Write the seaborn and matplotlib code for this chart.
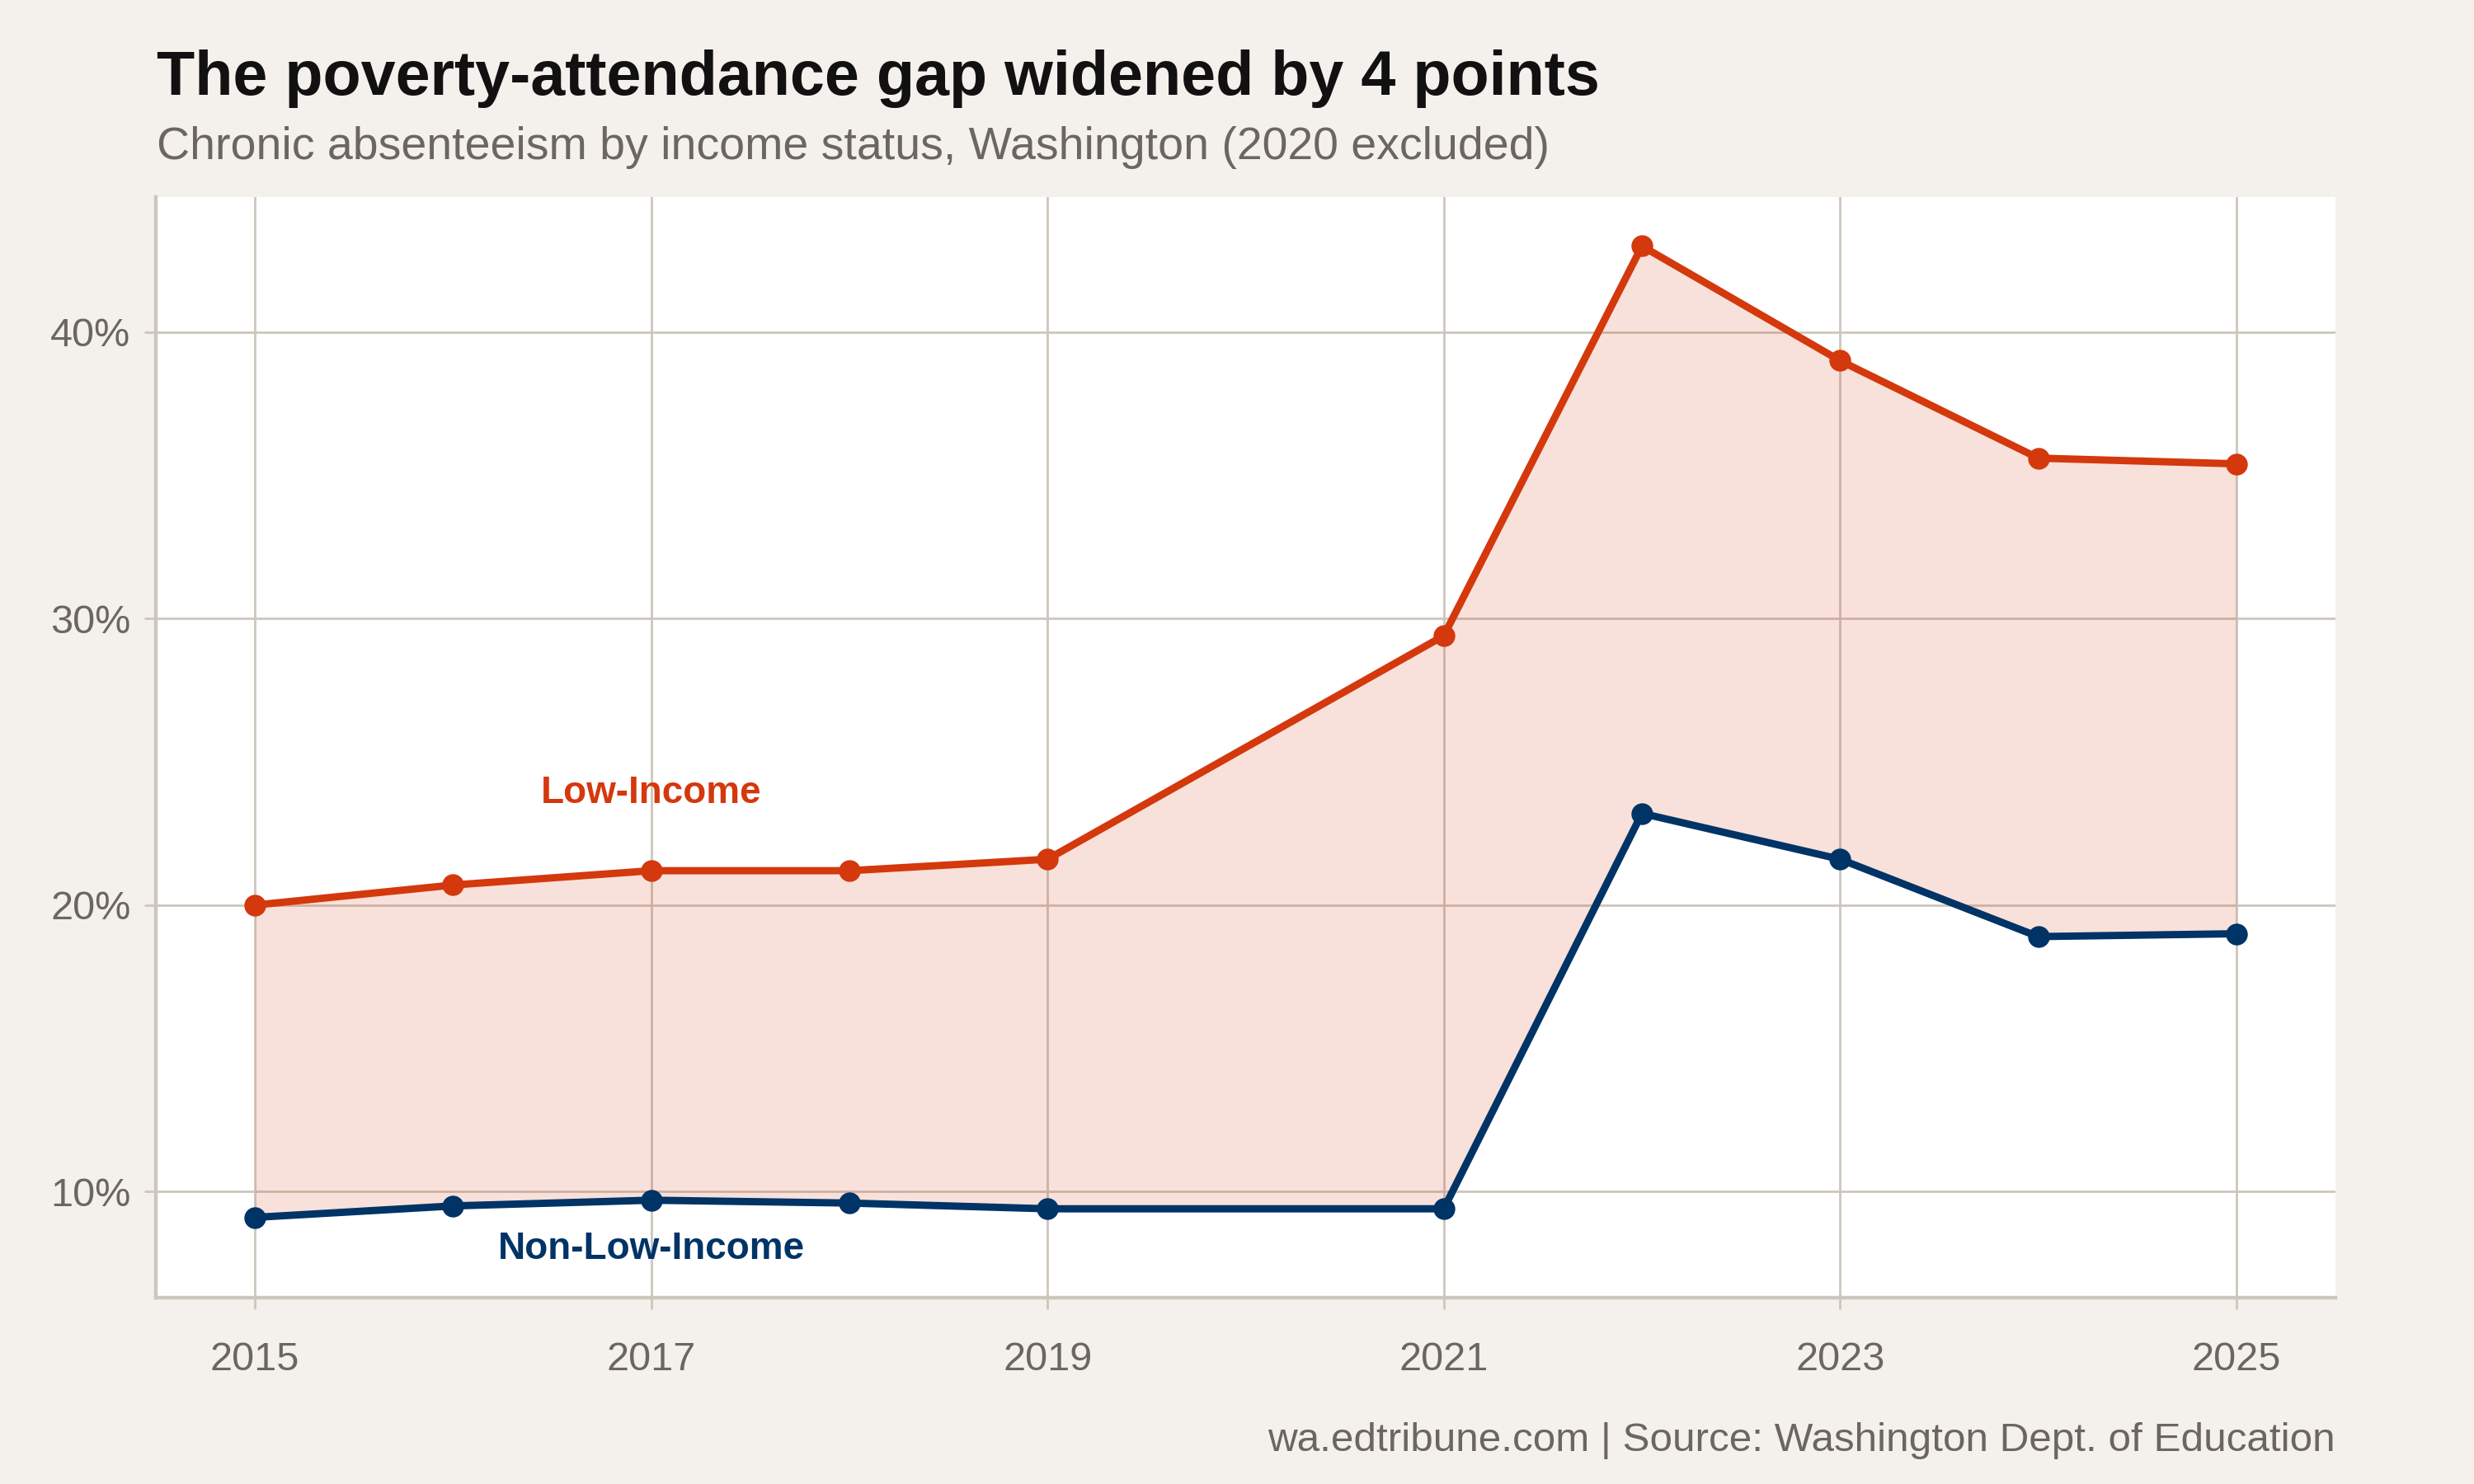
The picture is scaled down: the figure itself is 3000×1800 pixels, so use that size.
import matplotlib
matplotlib.use("Agg")
import matplotlib.pyplot as plt
import seaborn as sns
import pandas as pd
from matplotlib.ticker import FuncFormatter

years = [2015, 2016, 2017, 2018, 2019, 2021, 2022, 2023, 2024, 2025]
low_income = [20.0, 20.7, 21.2, 21.2, 21.6, 29.4, 43.0, 39.0, 35.6, 35.4]
non_low_income = [9.1, 9.5, 9.7, 9.6, 9.4, 9.4, 23.2, 21.6, 18.9, 19.0]
series_names = ["Low-Income", "Non-Low-Income"]
x_ticks = [2015, 2017, 2019, 2021, 2023, 2025]
y_ticks = [10, 20, 30, 40]

title = "The poverty-attendance gap widened by 4 points"
subtitle = "Chronic absenteeism by income status, Washington (2020 excluded)"
caption = "wa.edtribune.com | Source: Washington Dept. of Education"

RED = "#d4380d"
NAVY = "#003366"
BG = "#f4f1ec"
GRID = "#cdc6bd"
TXT = "#6b6661"

sns.set_theme(style="whitegrid")
plt.rcParams["font.family"] = ["Liberation Sans", "DejaVu Sans"]

df = pd.DataFrame({
    "year": years * 2,
    "value": low_income + non_low_income,
    "group": [series_names[0]] * len(years) + [series_names[1]] * len(years),
})

fig = plt.figure(figsize=(15, 9), dpi=200, facecolor=BG)
ax = fig.add_axes([0.063, 0.1256, 0.881, 0.7414])
ax.set_facecolor("white")

ax.fill_between(years, non_low_income, low_income, color=RED, alpha=0.15, lw=0, zorder=1)
sns.lineplot(data=df, x="year", y="value", hue="group",
             palette={series_names[0]: RED, series_names[1]: NAVY},
             marker="o", markersize=9.5, markeredgewidth=0, linewidth=3.2,
             legend=False, ax=ax, zorder=3)

ax.set_xlim(2014.5, 2025.5)
ax.set_ylim(6.3, 44.7)
ax.set_xticks(x_ticks)
ax.set_yticks(y_ticks)
ax.yaxis.set_major_formatter(FuncFormatter(lambda v, p: f"{v:.0f}%"))
ax.set_xlabel("")
ax.set_ylabel("")
ax.grid(True, color=GRID, linewidth=1.0, zorder=0)
ax.set_axisbelow(True)
for s in ["top", "right"]:
    ax.spines[s].set_visible(False)
for s in ["left", "bottom"]:
    ax.spines[s].set_visible(True)
    ax.spines[s].set_color(GRID)
    ax.spines[s].set_linewidth(1.6)
ax.tick_params(axis="both", colors=GRID, labelcolor=TXT, labelsize=17.5,
               length=5, width=1.0, direction="out", bottom=True, left=True)
ax.tick_params(axis="x", pad=14)
ax.tick_params(axis="y", pad=6)

ax.text(2017, 23.9, series_names[0], color=RED, fontsize=16.5, fontweight="bold",
        ha="center", va="center")
ax.text(2017, 8.0, series_names[1], color=NAVY, fontsize=16.5, fontweight="bold",
        ha="center", va="center")

fig.text(0.0635, 0.936, title, fontsize=27.2, fontweight="bold", color="#111111",
         ha="left", va="baseline")
fig.text(0.0635, 0.893, subtitle, fontsize=20, color=TXT, ha="left", va="baseline")
fig.text(0.944, 0.022, caption, fontsize=17.8, color=TXT, ha="right", va="baseline")

fig.savefig("out.png", dpi=200, facecolor=BG)
